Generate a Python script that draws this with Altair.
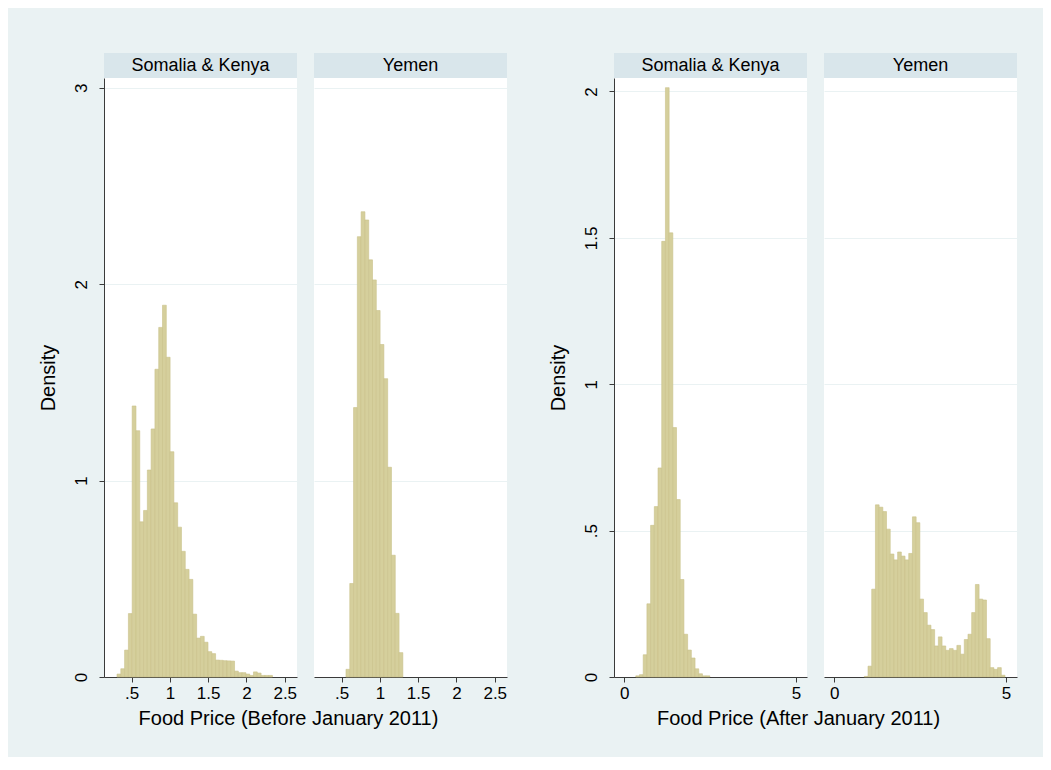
import altair as alt
import pandas as pd

# ---- data ----
BEFORE_BIN_START = 0.31
BEFORE_BIN_WIDTH = 0.0495
AFTER_BIN_START = 0.335
AFTER_BIN_WIDTH = 0.1078

panel_labels = ["Somalia & Kenya", "Yemen"]

sk_before_first_bin = 0
sk_before_density = [0.015, 0.042, 0.137, 0.323, 1.38, 1.254, 0.79, 0.848, 1.054, 1.263,
                     1.567, 1.78, 1.893, 1.628, 1.147, 0.887, 0.763, 0.64, 0.548, 0.497,
                     0.32, 0.198, 0.207, 0.177, 0.129, 0.119, 0.086, 0.085, 0.083, 0.082,
                     0.081, 0.03, 0.022, 0.022, 0.015, 0.008, 0.026, 0.02, 0.008, 0.008, 0.008]

ye_before_first_bin = 5
ye_before_density = [0.039, 0.476, 1.372, 2.242, 2.369, 2.327, 2.124, 2.022, 1.866, 1.693,
                     1.519, 1.068, 0.62, 0.324, 0.124]

sk_after_first_bin = 0
sk_after_density = [0.004, 0.008, 0.076, 0.25, 0.518, 0.582, 0.714, 1.488, 2.013, 1.517,
                    0.852, 0.606, 0.333, 0.146, 0.092, 0.065, 0.028, 0.011, 0.004, 0.004]

ye_after_first_bin = 5
ye_after_density = [0.002, 0.037, 0.30, 0.588, 0.58, 0.565, 0.505, 0.42, 0.40, 0.427,
                    0.413, 0.40, 0.422, 0.547, 0.527, 0.266, 0.22, 0.177, 0.162, 0.106,
                    0.137, 0.106, 0.091, 0.097, 0.091, 0.108, 0.078, 0.128, 0.146, 0.22,
                    0.316, 0.266, 0.263, 0.131, 0.032, 0.026, 0.032, 0.006]

before_x_ticks = [0.5, 1, 1.5, 2, 2.5]
before_y_ticks = [0, 1, 2, 3]
after_x_ticks = [0, 5]
after_y_ticks = [0, 0.5, 1, 1.5, 2]

before_x_domain = [0.14, 2.66]
before_y_domain = [0, 3.05]
after_x_domain = [-0.30, 5.32]
after_y_domain = [0, 2.046]

before_title = "Food Price (Before January 2011)"
after_title = "Food Price (After January 2011)"
y_title = "Density"

# ---- styling ----
FONT = "Liberation Sans"
BG = "#EAF2F3"
HEADER = "#D9E6EB"
GRID = "#EAF2F3"
AXIS = "#3a3a3a"
BAR_FILL = "#D5CF9C"
BAR_STROKE = "#C9C18A"
W = 193
H = 599
LABEL_EXPR = "replace(format(datum.value, '~g'), '0.', '.')"


def bins(vals, first, start, width):
    rows = []
    for i, v in enumerate(vals):
        k = first + i
        rows.append({"lo": start + k * width, "hi": start + (k + 1) * width, "density": v})
    return pd.DataFrame(rows)


def panel(df, label, xdom, xticks, ydom, yticks, show_y):
    if show_y:
        yaxis = alt.Axis(values=yticks, title=y_title, labelExpr=LABEL_EXPR,
                         labelAngle=-90, labelAlign="center", labelBaseline="bottom",
                         labelPadding=9, tickSize=5, grid=True, gridColor=GRID,
                         domainColor=AXIS, tickColor=AXIS, labelFontSize=17,
                         titleFontSize=20, titleFontWeight="normal", titlePadding=14,
                         labelOverlap=False, labelFont=FONT, titleFont=FONT,
                         labelColor="black", titleColor="black")
    else:
        yaxis = alt.Axis(values=yticks, title=None, labels=False, ticks=False,
                         domain=False, grid=True, gridColor=GRID)
    xaxis = alt.Axis(values=xticks, title=None, labelExpr=LABEL_EXPR, tickSize=5,
                     labelPadding=3, grid=False, domainColor=AXIS, tickColor=AXIS,
                     labelFontSize=17, labelFlush=False, labelOverlap=False,
                     labelFont=FONT, labelColor="black")
    bars = alt.Chart(df).mark_rect(fill=BAR_FILL, stroke=BAR_STROKE, strokeWidth=0.6).encode(
        x=alt.X("lo:Q", scale=alt.Scale(domain=xdom, nice=False, zero=False), axis=xaxis),
        x2="hi:Q",
        y=alt.Y("density:Q", scale=alt.Scale(domain=ydom, nice=False, zero=True), axis=yaxis),
        y2=alt.datum(0),
    )
    lab = pd.DataFrame({"label": [label]})
    head = alt.Chart(lab).mark_rect(fill=HEADER).encode(
        x=alt.value(0), x2=alt.value(W), y=alt.value(-25), y2=alt.value(0))
    text = alt.Chart(lab).mark_text(font=FONT, fontSize=18, color="black",
                                    baseline="middle", align="center").encode(
        x=alt.value(W / 2), y=alt.value(-12.5), text="label:N")
    return alt.layer(bars, head, text).properties(width=W, height=H)


p1 = panel(bins(sk_before_density, sk_before_first_bin, BEFORE_BIN_START, BEFORE_BIN_WIDTH),
           panel_labels[0], before_x_domain, before_x_ticks, before_y_domain, before_y_ticks, True)
p2 = panel(bins(ye_before_density, ye_before_first_bin, BEFORE_BIN_START, BEFORE_BIN_WIDTH),
           panel_labels[1], before_x_domain, before_x_ticks, before_y_domain, before_y_ticks, False)
p3 = panel(bins(sk_after_density, sk_after_first_bin, AFTER_BIN_START, AFTER_BIN_WIDTH),
           panel_labels[0], after_x_domain, after_x_ticks, after_y_domain, after_y_ticks, True)
p4 = panel(bins(ye_after_density, ye_after_first_bin, AFTER_BIN_START, AFTER_BIN_WIDTH),
           panel_labels[1], after_x_domain, after_x_ticks, after_y_domain, after_y_ticks, False)


def group(a, b, title):
    return alt.hconcat(a, b, spacing=17).properties(
        title=alt.TitleParams(title, orient="bottom", anchor="middle", fontSize=20,
                              fontWeight="normal", font=FONT, color="black", offset=8, dx=16))


g1 = group(p1, p2, before_title)
g2 = group(p3, p4, after_title)

chart = alt.hconcat(g1, g2, spacing=41).properties(
    background=BG,
    padding={"left": 30, "top": 45, "right": 26, "bottom": 28},
).configure_view(stroke=None, fill="white").configure_concat(spacing=17)

chart.save("out.html", embed_options={"renderer": "svg", "actions": False})
